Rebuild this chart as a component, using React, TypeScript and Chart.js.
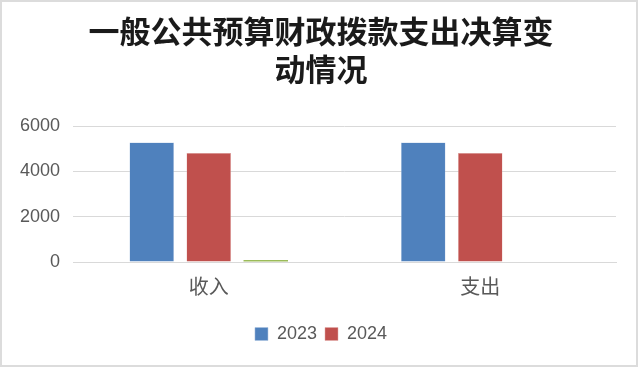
import React, { useEffect, useRef } from "react";
import { Chart, registerables } from "chart.js";

Chart.register(...registerables);

const categories = ["收入", "支出"];
const series2023 = [5280, 5280];
const series2024 = [4820, 4820];
const seriesChange = [90, null];
const titleLines = ["一般公共预算财政拨款支出决算变", "动情况"];

export default function App() {
  const ref = useRef<HTMLCanvasElement | null>(null);
  useEffect(() => {
    if (!ref.current) return;
    const chart = new Chart(ref.current, {
      type: "bar",
      data: {
        labels: categories,
        datasets: [
          { label: "2023", data: series2023, backgroundColor: "#4F81BD", borderColor: "#a9c0de", borderWidth: 0.5 },
          { label: "2024", data: series2024, backgroundColor: "#C0504D", borderColor: "#e0a8a6", borderWidth: 0.5 },
          { label: "增减", data: seriesChange as any, backgroundColor: "#9BBB59" },
        ],
      },
      options: {
        animation: false,
        responsive: false,
        maintainAspectRatio: false,
        layout: { padding: { left: 5, right: 1, top: 10, bottom: 12 } },
        datasets: { bar: { categoryPercentage: 0.63, barPercentage: 0.78 } },
        plugins: {
          title: {
            display: true,
            text: titleLines,
            color: "#1a1a1a",
            font: { family: "'Noto Sans CJK SC', serif", size: 31, weight: "bold", lineHeight: 1.23 },
            padding: { top: 0, bottom: 38 },
          },
          legend: {
            position: "bottom",
            labels: {
              boxWidth: 13,
              boxHeight: 13,
              color: "#595959",
              font: { family: "'Liberation Sans', Arial, sans-serif", size: 18 },
              padding: 8,
              filter: (item) => item.text !== "增减",
            },
          },
          tooltip: { enabled: false },
        },
        scales: {
          x: {
            afterFit: (s) => {
              s.height += 7;
            },
            grid: { display: false, drawTicks: false },
            border: { color: "#d9d9d9", width: 1 },
            ticks: {
              color: "#595959",
              font: { family: "'Noto Sans CJK SC', sans-serif", size: 20 },
              padding: 12,
            },
          },
          y: {
            min: 0,
            max: 6000,
            afterFit: (s) => {
              s.width = 66;
            },
            ticks: {
              stepSize: 2000,
              color: "#595959",
              font: { family: "'Liberation Sans', Arial, sans-serif", size: 18 },
              padding: 13,
              callback: (v) => String(v),
            },
            grid: { color: "#d9d9d9", drawTicks: false },
            border: { display: false },
          },
          yRight: {
            position: "right",
            min: 0,
            max: 6000,
            afterFit: (s) => {
              s.width = 19;
            },
            ticks: { display: false },
            grid: { display: false, drawTicks: false },
            border: { display: false },
          },
        },
      },
    });
    return () => chart.destroy();
  }, []);
  return (
    <div
      style={{
        position: "fixed",
        left: 0,
        top: 0,
        width: 638,
        height: 367,
        border: "2px solid #dcdcdc",
        boxSizing: "border-box",
        background: "#fff",
      }}
    >
      <canvas ref={ref} width={634} height={363} style={{ display: "block" }} />
    </div>
  );
}
